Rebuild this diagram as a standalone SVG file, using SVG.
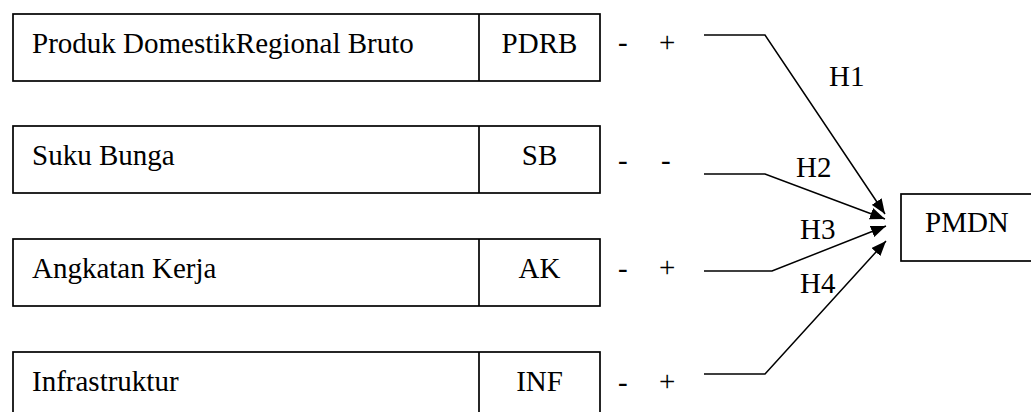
<svg xmlns="http://www.w3.org/2000/svg" width="1031" height="412" viewBox="0 0 1031 412">
<style>
.box{fill:#fff;stroke:#000;stroke-width:1.7}
.t{font-family:"Liberation Serif","Times New Roman",serif;font-size:29px;fill:#000}
.m{text-anchor:middle}
.c{fill:none;stroke:#000;stroke-width:1.5}
</style>
<defs>
<marker id="ah" markerUnits="userSpaceOnUse" markerWidth="16" markerHeight="12" refX="15" refY="6" orient="auto">
<path d="M0,0 L15,6 L0,12 Z" fill="#000"/>
</marker>
</defs>
<rect width="1031" height="412" fill="#fff"/>
<g id="node-pdrb">
<rect class="box" x="13" y="14" width="587" height="67"/>
<line class="box" x1="479" y1="14" x2="479" y2="81"/>
<text class="t" x="32" y="53">Produk DomestikRegional Bruto</text>
<text class="t m" x="539.5" y="53">PDRB</text>
<text class="t" x="618" y="52">-</text>
<text class="t" x="659" y="52">+</text>
</g>
<g id="node-sb">
<rect class="box" x="13" y="126" width="587" height="67"/>
<line class="box" x1="479" y1="126" x2="479" y2="193"/>
<text class="t" x="32" y="165">Suku Bunga</text>
<text class="t m" x="539.5" y="165">SB</text>
<text class="t" x="618" y="170">-</text>
<text class="t" x="661" y="170">-</text>
</g>
<g id="node-ak">
<rect class="box" x="13" y="239" width="587" height="67"/>
<line class="box" x1="479" y1="239" x2="479" y2="306"/>
<text class="t" x="32" y="278">Angkatan Kerja</text>
<text class="t m" x="539.5" y="278">AK</text>
<text class="t" x="618" y="278">-</text>
<text class="t" x="659" y="277">+</text>
</g>
<g id="node-inf">
<rect class="box" x="13" y="352" width="587" height="67"/>
<line class="box" x1="479" y1="352" x2="479" y2="419"/>
<text class="t" x="32" y="391">Infrastruktur</text>
<text class="t m" x="539.5" y="391">INF</text>
<text class="t" x="618" y="392">-</text>
<text class="t" x="659" y="391">+</text>
</g>
<g id="node-pmdn">
<rect class="box" x="901" y="194" width="145" height="67"/>
<text class="t" x="925" y="232">PMDN</text>
</g>
<g id="connectors">
<polyline class="c" points="704,35 765,35 885,214" marker-end="url(#ah)"/>
<polyline class="c" points="704,174 765,174 885,219" marker-end="url(#ah)"/>
<polyline class="c" points="704,271 772,271 886,226" marker-end="url(#ah)"/>
<polyline class="c" points="704,374 765,374 886,241" marker-end="url(#ah)"/>
<text class="t" x="829" y="86">H1</text>
<text class="t" x="796" y="177">H2</text>
<text class="t" x="800" y="239">H3</text>
<text class="t" x="800" y="293">H4</text>
</g>
</svg>
